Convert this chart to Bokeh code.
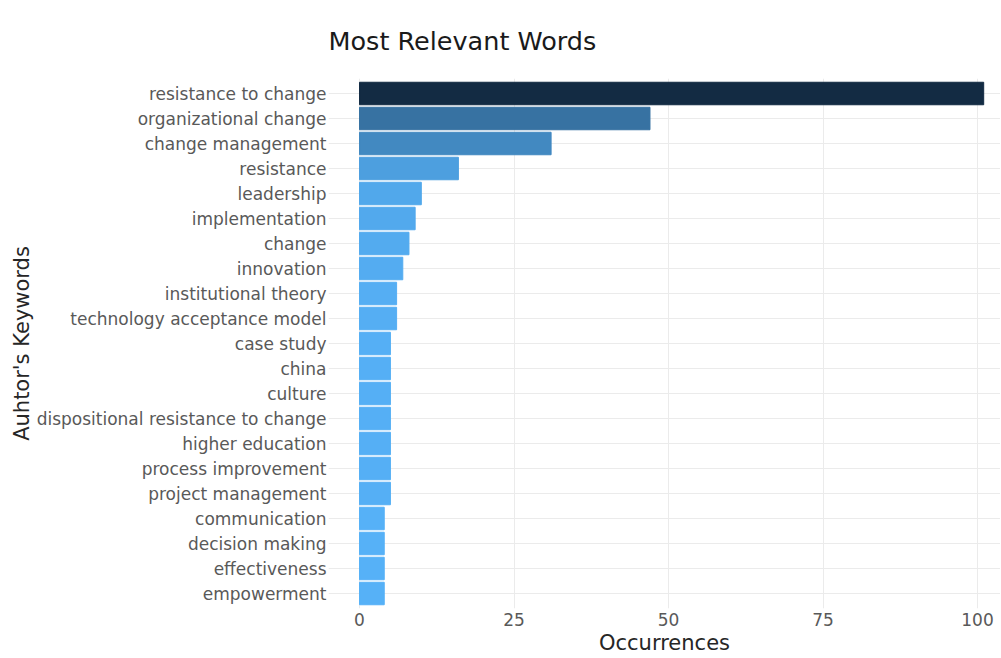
from bokeh.plotting import figure
from bokeh.models import Range1d, ColumnDataSource, FixedTicker
from bokeh.embed import file_html
from bokeh.resources import INLINE

# ---- data ----
words = ["resistance to change", "organizational change", "change management",
         "resistance", "leadership", "implementation", "change", "innovation",
         "institutional theory", "technology acceptance model", "case study",
         "china", "culture", "dispositional resistance to change",
         "higher education", "process improvement", "project management",
         "communication", "decision making", "effectiveness", "empowerment"]
occurrences = [101, 47, 31, 16, 10, 9, 8, 7, 6, 6, 5, 5, 5, 5, 5, 5, 5, 4, 4, 4, 4]
x_ticks = [0, 25, 50, 75, 100]

# ---- colour scale (ggplot-like gradient in Lab space, low -> high) ----
LOW, HIGH = "#56B1F7", "#132B43"

def hex2rgb(h):
    h = h.lstrip("#")
    return [int(h[i:i + 2], 16) / 255 for i in (0, 2, 4)]

def srgb2lin(c):
    return c / 12.92 if c <= 0.04045 else ((c + 0.055) / 1.055) ** 2.4

def lin2srgb(c):
    c = max(0.0, min(1.0, c))
    return 12.92 * c if c <= 0.0031308 else 1.055 * c ** (1 / 2.4) - 0.055

WHITE = (0.95047, 1.0, 1.08883)

def f(t):
    return t ** (1 / 3) if t > 0.008856 else 7.787 * t + 16 / 116

def finv(t):
    return t ** 3 if t ** 3 > 0.008856 else (t - 16 / 116) / 7.787

def rgb2lab(rgb):
    r, g, b = [srgb2lin(c) for c in rgb]
    X = 0.4124 * r + 0.3576 * g + 0.1805 * b
    Y = 0.2126 * r + 0.7152 * g + 0.0722 * b
    Z = 0.0193 * r + 0.1192 * g + 0.9505 * b
    fx, fy, fz = f(X / WHITE[0]), f(Y / WHITE[1]), f(Z / WHITE[2])
    return (116 * fy - 16, 500 * (fx - fy), 200 * (fy - fz))

def lab2hex(lab):
    L, a, b = lab
    fy = (L + 16) / 116
    fx = fy + a / 500
    fz = fy - b / 200
    X, Y, Z = WHITE[0] * finv(fx), WHITE[1] * finv(fy), WHITE[2] * finv(fz)
    r = 3.2406 * X - 1.5372 * Y - 0.4986 * Z
    g = -0.9689 * X + 1.8758 * Y + 0.0415 * Z
    bb = 0.0557 * X - 0.2040 * Y + 1.0570 * Z
    return "#%02x%02x%02x" % tuple(int(round(lin2srgb(c) * 255)) for c in (r, g, bb))

lo_lab, hi_lab = rgb2lab(hex2rgb(LOW)), rgb2lab(hex2rgb(HIGH))
vmin, vmax = min(occurrences), max(occurrences)
colors = []
for v in occurrences:
    t = (v - vmin) / (vmax - vmin)
    colors.append(lab2hex(tuple(lo_lab[i] + (hi_lab[i] - lo_lab[i]) * t for i in range(3))))

ypos = list(range(1, len(words) + 1))   # rank: 1 = top
source = ColumnDataSource(dict(y=ypos, word=words, n=occurrences, color=colors))

FONT = "DejaVu Sans"

p = figure(width=1000, height=658,
           y_range=Range1d(len(words) + 0.6, 0.4),
           x_range=Range1d(-5.02, 103.72),
           output_backend="svg", toolbar_location=None,
           title="Most Relevant Words",
           min_border_left=328, min_border_right=0,
           min_border_top=64, min_border_bottom=50)

p.hbar(y="y", right="n", left=0, height=0.9, color="color", source=source)

p.outline_line_color = None
p.background_fill_color = "white"

p.title.text_font = FONT
p.title.text_font_size = "25.5px"
p.title.text_font_style = "normal"
p.title.text_color = "#1a1a1a"
p.title.align = "left"
p.title.offset = 0
p.title.standoff = 46
p.title.text_line_height = 0.5

for ax in (p.xaxis[0], p.yaxis[0]):
    ax.axis_line_color = None
    ax.major_tick_line_color = None
    ax.minor_tick_line_color = None
    ax.major_tick_out = 0
    ax.major_tick_in = 0
    ax.minor_tick_out = 0
    ax.minor_tick_in = 0
    ax.major_label_text_font = FONT
    ax.major_label_text_font_size = "17px"
    ax.major_label_text_color = "#595959"
    ax.axis_label_text_font = FONT
    ax.axis_label_text_font_size = "21px"
    ax.axis_label_text_font_style = "normal"
    ax.axis_label_text_color = "#262626"

p.xaxis.ticker = FixedTicker(ticks=x_ticks)
p.xaxis.axis_label = "Occurrences"
p.xaxis.major_label_standoff = 4
p.xaxis.axis_label_standoff = 2

p.yaxis.ticker = FixedTicker(ticks=ypos)
p.yaxis.major_label_overrides = {y: w for y, w in zip(ypos, words)}
p.yaxis.axis_label = "Auhtor's Keywords"
p.yaxis.major_label_standoff = 2
p.yaxis.axis_label_standoff = 0

p.xgrid.grid_line_color = "#ebebeb"
p.ygrid.grid_line_color = "#ebebeb"
p.xgrid.ticker = FixedTicker(ticks=x_ticks)
p.ygrid.ticker = FixedTicker(ticks=ypos)

open("out.html", "w").write(file_html(p, INLINE))
